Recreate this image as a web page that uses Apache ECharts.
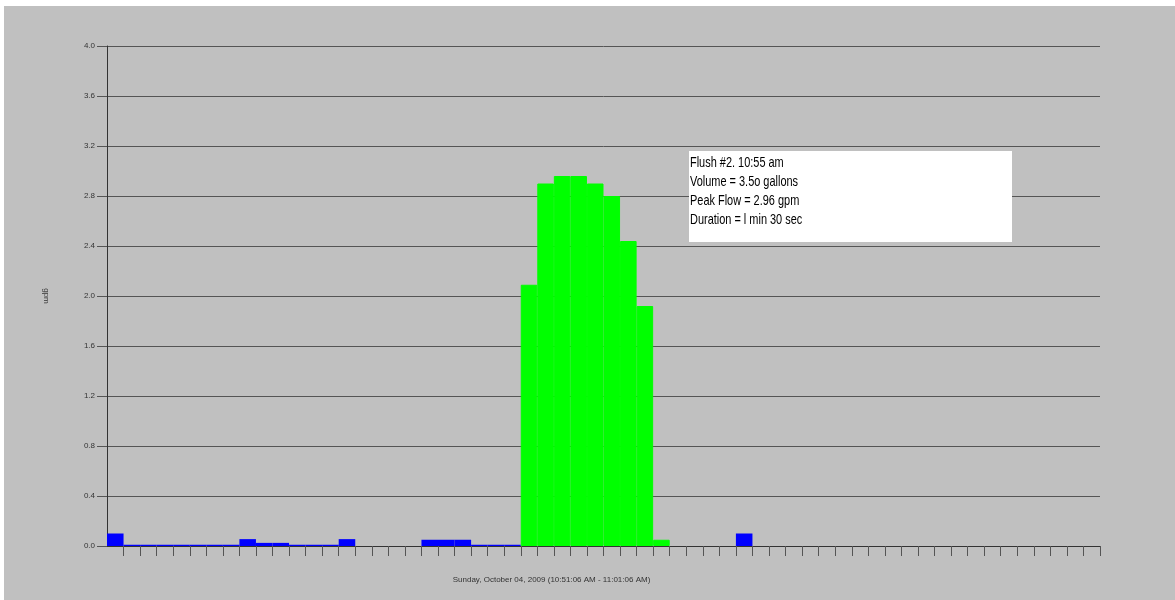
<!DOCTYPE html>
<html>
<head>
<meta charset="utf-8">
<script src="https://cdn.jsdelivr.net/npm/echarts@6/dist/echarts.min.js"></script>
<style>
html,body{margin:0;padding:0;background:#ffffff;}
#chart{position:absolute;left:4px;top:6px;width:1171px;height:594px;}
</style>
</head>
<body>
<div id="chart"></div>
<script>
// Time slots (10-second intervals)
var categories = [
  "10:51:06","10:51:16","10:51:26","10:51:36","10:51:46","10:51:56",
  "10:52:06","10:52:16","10:52:26","10:52:36","10:52:46","10:52:56",
  "10:53:06","10:53:16","10:53:26","10:53:36","10:53:46","10:53:56",
  "10:54:06","10:54:16","10:54:26","10:54:36","10:54:46","10:54:56",
  "10:55:06","10:55:16","10:55:26","10:55:36","10:55:46","10:55:56",
  "10:56:06","10:56:16","10:56:26","10:56:36","10:56:46","10:56:56",
  "10:57:06","10:57:16","10:57:26","10:57:36","10:57:46","10:57:56",
  "10:58:06","10:58:16","10:58:26","10:58:36","10:58:46","10:58:56",
  "10:59:06","10:59:16","10:59:26","10:59:36","10:59:46","10:59:56",
  "11:00:06","11:00:16","11:00:26","11:00:36","11:00:46","11:00:56"
];
// Background flow (blue)
var otherFlow = [
  0.10,0.01,0.01,0.01,0.01,0.01,
  0.01,0.01,0.055,0.025,0.025,0.01,
  0.01,0.01,0.055,0,0,0,
  0,0.05,0.05,0.05,0.01,0.01,
  0.01,null,null,null,null,null,
  null,null,null,null,0,0,
  0,0,0.10,0,0,0,
  0,0,0,0,0,0,
  0,0,0,0,0,0,
  0,0,0,0,0,0
];
// Flush flow (green)
var flushFlow = [
  null,null,null,null,null,null,
  null,null,null,null,null,null,
  null,null,null,null,null,null,
  null,null,null,null,null,null,
  null,2.09,2.90,2.96,2.96,2.90,
  2.80,2.44,1.92,0.05,null,null,
  null,null,null,null,null,null,
  null,null,null,null,null,null,
  null,null,null,null,null,null,
  null,null,null,null,null,null
];
var xTitle = "Sunday, October 04, 2009 (10:51:06 AM - 11:01:06 AM)";
var yTitle = "gpm";
var noteLines = ["Flush #2. 10:55 am","Volume = 3.5o gallons","Peak Flow = 2.96 gpm","Duration = l min 30 sec"];

var chart = echarts.init(document.getElementById('chart'));
chart.setOption({
  backgroundColor: '#c0c0c0',
  animation: false,
  grid: {left: 103, right: 75, top: 40, bottom: 54, containLabel: false},
  xAxis: {
    type: 'category',
    data: categories,
    boundaryGap: true,
    name: xTitle,
    nameLocation: 'middle',
    nameGap: 30,
    nameTextStyle: {fontFamily: 'Liberation Sans, Arial, sans-serif', fontSize: 8, color: '#333333', padding: [0, 104, 0, 0]},
    axisLine: {show: true, lineStyle: {color: '#333333', width: 1}},
    axisTick: {show: true, inside: false, length: 10, interval: function (i) { return i !== 0; }, lineStyle: {color: '#555555', width: 1}},
    axisLabel: {show: false},
    splitLine: {show: false}
  },
  yAxis: {
    type: 'value',
    min: 0,
    max: 4,
    interval: 0.4,
    name: yTitle,
    nameLocation: 'middle',
    nameRotate: -90,
    nameGap: 57,
    nameTextStyle: {fontFamily: 'Liberation Sans, Arial, sans-serif', fontSize: 8, color: '#333333'},
    axisLine: {show: true, lineStyle: {color: '#333333', width: 1}},
    axisTick: {show: true, length: 10, lineStyle: {color: '#555555', width: 1}},
    axisLabel: {
      fontFamily: 'Liberation Sans, Arial, sans-serif', fontSize: 8, color: '#333333', margin: 12,
      formatter: function (v) { return v.toFixed(1); }
    },
    splitLine: {show: true, lineStyle: {color: '#555555', width: 1}}
  },
  series: [
    {
      name: 'other', type: 'bar', stack: 'flow', data: otherFlow,
      barCategoryGap: '0%', barWidth: '100%',
      itemStyle: {color: '#0000ff'}
    },
    {
      name: 'flush', type: 'bar', stack: 'flow', data: flushFlow,
      barCategoryGap: '0%', barWidth: '100%',
      itemStyle: {color: '#00ff00', borderColor: '#00ff00', borderWidth: 1}
    }
  ],
  graphic: [
    {
      type: 'rect', left: 685, top: 145, z: 100,
      shape: {width: 323, height: 91},
      style: {fill: '#ffffff'}
    },
    {
      type: 'text', x: 686, y: 147, z: 101, scaleX: 0.73,
      style: {
        text: noteLines.join('\n'),
        fontFamily: "'Liberation Sans', Arial, sans-serif",
        fontSize: 15, lineHeight: 19, fill: '#000000'
      }
    }
  ]
});
</script>
</body>
</html>
